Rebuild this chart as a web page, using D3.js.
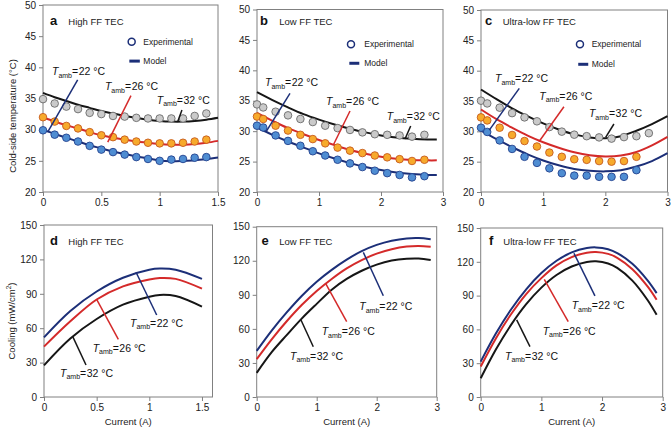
<!DOCTYPE html>
<html><head><meta charset="utf-8">
<script src="https://cdn.jsdelivr.net/npm/d3@7"></script>
<style>body{margin:0;background:#fff}svg{display:block}text{font-family:"Liberation Sans",Arial,Helvetica,sans-serif}</style>
</head><body><svg id="c" width="672" height="428"></svg>
<script>
// ---------- data ----------
const tempTicks=[20,25,30,35,40,45,50];
const coolTicks=[0,30,60,90,120,150];
const xTicksHigh=[0,0.5,1,1.5];
const xTicksLow=[0,1,2,3];
const ambTemps=["22","26","32"];
const panelLetters=["a","b","c","d","e","f"];
const panelTitles=["High FF TEC","Low FF TEC","Ultra-low FF TEC","High FF TEC","Low FF TEC","Ultra-low FF TEC"];

// panel a (High FF, cold-side temperature)
const aExpX=[0,0.1,0.2,0.3,0.4,0.5,0.6,0.7,0.8,0.9,1.0,1.1,1.2,1.3,1.4];
const aExp22=[29.9,29.2,28.7,28.1,27.4,26.8,26.4,26.0,25.6,25.3,25.0,25.2,25.3,25.5,25.6];
const aExp26=[32.0,31.3,30.6,30.2,29.6,29.1,28.8,28.4,28.1,27.9,27.8,27.8,27.9,28.1,28.4];
const aExp32=[34.9,34.2,33.7,33.3,32.7,32.5,32.2,32.1,31.9,31.8,31.8,31.8,31.8,32.2,32.6];
const aModX=[0,0.1,0.2,0.3,0.4,0.5,0.6,0.7,0.8,0.9,1.0,1.1,1.2,1.3,1.4,1.5];
const aMod22=[30.0,29.3,28.7,28.1,27.5,27.0,26.5,26.1,25.7,25.4,25.05,24.95,25.0,25.1,25.3,25.55];
const aMod26=[32.0,31.3,30.7,30.2,29.6,29.1,28.7,28.4,28.1,27.9,27.7,27.6,27.6,27.7,27.9,28.2];
const aMod32=[35.9,35.2,34.6,34.0,33.5,33.0,32.6,32.2,31.9,31.6,31.4,31.3,31.3,31.4,31.6,31.9];

// panel b (Low FF)
const bExpX=[0,0.1,0.3,0.5,0.7,0.9,1.1,1.3,1.5,1.7,1.9,2.1,2.3,2.5,2.7];
const bExp22=[30.9,30.6,29.3,28.4,27.6,26.7,26.0,25.3,24.7,24.1,23.5,23.1,22.8,22.4,22.6];
const bExp26=[32.4,32.0,30.9,30.1,29.4,28.7,28.0,27.3,26.8,26.4,26.0,25.7,25.4,25.1,25.3];
const bExp32=[34.4,33.9,33.2,32.6,32.0,31.5,30.9,30.5,30.2,29.8,29.5,29.4,29.3,29.1,29.4];
const bModX=[0,0.25,0.5,0.75,1.0,1.25,1.5,1.75,2.0,2.25,2.5,2.75,2.9];
const bMod22=[30.6,29.4,28.3,27.3,26.35,25.5,24.75,24.1,23.6,23.2,22.95,22.8,22.8];
const bMod26=[33.0,31.7,30.5,29.5,28.55,27.7,26.9,26.3,25.8,25.45,25.25,25.2,25.2];
const bMod32=[36.4,35.1,33.9,32.8,31.9,31.1,30.4,29.8,29.3,28.95,28.75,28.65,28.65];

// panel c (Ultra-low FF)
const cExpX=[0,0.1,0.3,0.5,0.7,0.9,1.1,1.3,1.5,1.7,1.9,2.1,2.3,2.5,2.7];
const cExp22=[30.6,29.9,28.5,27.1,25.8,24.8,23.9,23.1,22.7,22.7,22.5,22.5,22.5,23.6];
const cExp26=[32.3,31.8,30.6,29.4,28.4,27.5,26.5,25.8,25.4,25.3,25.1,25.0,25.1,25.8];
const cExp32=[35.05,34.6,33.9,33.0,32.3,31.65,30.7,29.95,29.45,29.2,29.0,28.8,29.05,29.2,29.7];
const cModX=[0,0.25,0.5,0.75,1.0,1.25,1.5,1.75,2.0,2.25,2.5,2.75,3.0];
const cMod22=[30.1,28.7,27.4,26.2,25.2,24.4,23.8,23.5,23.4,23.6,24.2,25.1,26.4];
const cMod26=[33.6,32.0,30.6,29.3,28.2,27.3,26.55,26.05,25.85,26.0,26.6,27.7,29.1];
const cMod32=[36.9,35.3,33.8,32.5,31.3,30.3,29.5,29.0,28.85,29.2,30.1,31.2,32.5];

// panel d (High FF, cooling)
const dX=[0,0.25,0.5,0.75,1.0,1.1,1.25,1.5];
const d22=[52,75,92,104,111,112,111,103];
const d26=[43.9,66,85,96.5,102.5,103.8,103,94.5];
const d32=[27.6,51,68,80.5,87.5,89,88,78.8];

// panel e (Low FF, cooling)
const eX=[0,0.25,0.5,0.75,1.0,1.25,1.5,1.75,2.0,2.25,2.5,2.7,2.9];
const e22=[40.6,58.5,74.5,89,101.5,112,121,128.5,134,137.7,139.7,140,139];
const e26=[33.3,50.8,66.7,81,93.4,104,113.3,120.6,126.3,130.2,132.5,133,132.4];
const e32=[21.3,39.5,54.5,69,82,94.5,104,111.2,116.6,120.2,121.8,122,120.7];

// panel f (Ultra-low FF, cooling)
const fX=[0,0.25,0.5,0.75,1.0,1.25,1.5,1.75,1.9,2.1,2.25,2.5,2.75,2.9];
const f22=[31.4,56.3,77.7,95.6,110,120.9,128.3,132.2,132.8,131.2,127.8,118.2,103.5,92.2];
const f26=[27,52,73.4,91.4,105.5,116.8,124.2,128.1,128.7,127,123.5,113.4,98.1,86.3];
const f32=[16.6,42.1,64,82.4,97.1,108.3,115.8,119.8,120.4,118.5,114.6,103.3,86.1,72.9];

// annotation anchors (data units): [textX, textY, leaderX1, leaderY1, leaderX2, leaderY2] for 22, 26, 32 °C
const aNotes=[[0.077,38.77,0.297,37.97,0.040,29.6],[0.531,36.36,0.754,35.45,0.555,28.0],[0.975,34.12,1.191,33.15,1.155,31.3]];
const bNotes=[[0.129,37.42,0.532,36.22,0.145,29.9],[1.113,34.30,1.5,33.31,1.231,27.72],[2.092,31.83,2.479,30.85,2.387,28.7]];
const cNotes=[[0.225,38.13,0.616,37.09,0.133,30.2],[0.937,35.17,1.334,34.06,0.932,28.29],[1.736,32.36,2.138,31.21,2.005,29.0]];
const dNotes=[[0.817,61.1,0.874,108.8,1.07,71.5],[0.462,39.3,0.5,85.2,0.706,50.3],[0.152,17.5,0.273,52.6,0.399,27.9]];
const eNotes=[[1.71,76.6,1.777,127.4,2.11,89.2],[1.083,54.6,1.155,99.5,1.5,66.3],[0.555,32.6,0.738,67.8,0.943,44.3]];
const fNotes=[[1.499,78.1,1.537,127.6,1.883,89.7],[1.021,55.1,1.048,104.5,1.443,66.9],[0.4,32.9,0.593,68.4,0.812,44.7]];

// legend anchors (data units): [circleX, circleY, textX, lineX1, lineX2, lineY]
const aLegend=[0.76,44.1,0.86,0.74,0.83,41.0];
const bLegend=[1.516,44.28,1.73,1.489,1.65,41.16];
const cLegend=[1.592,44.35,1.78,1.564,1.725,41.05];

// ---------- drawing ----------
const svg=d3.select("#c");
const FONT='"Liberation Sans",Arial,Helvetica,sans-serif';
const lineCol=["#1c2f78","#d42a2a","#161616"];
const ptFill=["#4f8dd2","#f7aa2c","#cacaca"];
const ptStroke=["#23428f","#c65a1d","#6a6a6a"];
const frameCol="#808080";

const panels=[
 {l:43,r:218,t:5,b:192,xd:[0,1.5],yd:[20,50],xt:xTicksHigh,yt:tempTicks,mx:aModX,m:[aMod22,aMod26,aMod32],ex:aExpX,e:[aExp22,aExp26,aExp32],notes:aNotes,legend:aLegend,lx:50,tx:68.3,ly:24.5},
 {l:257,r:443,t:9.5,b:192,xd:[0,3],yd:[20,50],xt:xTicksLow,yt:tempTicks,mx:bModX,m:[bMod22,bMod26,bMod32],ex:bExpX,e:[bExp22,bExp26,bExp32],notes:bNotes,legend:bLegend,lx:260,tx:279.3,ly:24.5},
 {l:481,r:667.5,t:10,b:192,xd:[0,3],yd:[20,50],xt:xTicksLow,yt:tempTicks,mx:cModX,m:[cMod22,cMod26,cMod32],ex:cExpX,e:[cExp22,cExp26,cExp32],notes:cNotes,legend:cLegend,lx:485,tx:502.7,ly:24.5},
 {l:44,r:212.5,t:225,b:397,xd:[0,1.6],yd:[0,150],xt:xTicksHigh,yt:coolTicks,mx:dX,m:[d22,d26,d32],notes:dNotes,lx:50,tx:68.3,ly:244.5,xlab:true},
 {l:256.7,r:436.7,t:226.7,b:397,xd:[0,3],yd:[0,150],xt:xTicksLow,yt:coolTicks,mx:eX,m:[e22,e26,e32],notes:eNotes,lx:261.5,tx:279.3,ly:244.5,xlab:true},
 {l:480.7,r:662.7,t:228,b:397,xd:[0,3],yd:[0,150],xt:xTicksLow,yt:coolTicks,mx:fX,m:[f22,f26,f32],notes:fNotes,lx:489,tx:503.3,ly:244.5,xlab:true}
];

panels.forEach((o,pi)=>{
  const x=d3.scaleLinear().domain(o.xd).range([o.l,o.r]);
  const y=d3.scaleLinear().domain(o.yd).range([o.b,o.t]);
  const g=svg.append("g");
  g.append("rect").attr("x",o.l).attr("y",o.t).attr("width",o.r-o.l).attr("height",o.b-o.t)
    .attr("fill","none").attr("stroke",frameCol).attr("stroke-width",1);
  const ax=g.append("g").attr("transform",`translate(0,${o.b})`)
    .call(d3.axisBottom(x).tickValues(o.xt).tickFormat(d3.format("~g")).tickSize(4).tickSizeOuter(0).tickPadding(3));
  const ay=g.append("g").attr("transform",`translate(${o.l},0)`)
    .call(d3.axisLeft(y).tickValues(o.yt).tickFormat(d3.format("d")).tickSize(4).tickSizeOuter(0).tickPadding(3));
  [ax,ay].forEach(a=>{
    a.select(".domain").remove();
    a.selectAll("line").attr("stroke",frameCol);
    a.selectAll("text").attr("font-size",10).attr("fill","#222").attr("font-family",FONT);
  });

  const line=d3.line().x(d=>x(d[0])).y(d=>y(d[1])).curve(d3.curveCatmullRom);
  o.m.forEach((ser,i)=>{
    g.append("path").datum(o.mx.map((v,k)=>[v,ser[k]])).attr("d",line)
      .attr("fill","none").attr("stroke",lineCol[i]).attr("stroke-width",2);
  });
  if(o.e){
    o.e.forEach((ser,i)=>{
      g.selectAll(null).data(ser.map((v,k)=>[o.ex[k],v])).enter().append("circle")
        .attr("cx",d=>x(d[0])).attr("cy",d=>y(d[1])).attr("r",3.8)
        .attr("fill",ptFill[i]).attr("stroke",ptStroke[i]).attr("stroke-width",0.9);
    });
  }
  // annotations
  o.notes.forEach((n,i)=>{
    g.append("line").attr("x1",x(n[2])).attr("y1",y(n[3])).attr("x2",x(n[4])).attr("y2",y(n[5]))
      .attr("stroke",lineCol[i]).attr("stroke-width",1.5);
    const t=g.append("text").attr("x",x(n[0])).attr("y",y(n[1])).attr("font-size",10.5).attr("fill","#111").attr("font-family",FONT);
    t.append("tspan").attr("font-style","italic").text("T");
    t.append("tspan").attr("font-size",7).attr("dy",2.5).text("amb");
    t.append("tspan").attr("dy",-2.5).text("=");
    t.append("tspan").attr("dx",0.5).text(ambTemps[i]+" °C");
  });
  // legend
  if(o.legend){
    const L=o.legend;
    g.append("circle").attr("cx",x(L[0])).attr("cy",y(L[1])).attr("r",3.5)
      .attr("fill","#fff").attr("stroke","#1c2f78").attr("stroke-width",1.5);
    g.append("text").attr("x",x(L[2])).attr("y",y(L[1])+3).attr("font-size",8.5).attr("fill","#222").attr("font-family",FONT).text("Experimental");
    g.append("line").attr("x1",x(L[3])).attr("x2",x(L[4])).attr("y1",y(L[5])).attr("y2",y(L[5]))
      .attr("stroke","#1c2f78").attr("stroke-width",3);
    g.append("text").attr("x",x(L[2])).attr("y",y(L[5])+3).attr("font-size",8.5).attr("fill","#222").attr("font-family",FONT).text("Model");
  }
  // title
  g.append("text").attr("x",o.lx).attr("y",o.ly).attr("font-size",13).attr("font-weight","bold").attr("fill","#111").attr("font-family",FONT).text(panelLetters[pi]);
  g.append("text").attr("x",o.tx).attr("y",o.ly).attr("font-size",9.5).attr("fill","#222").attr("font-family",FONT).text(panelTitles[pi]);
  if(o.xlab){
    g.append("text").attr("x",(o.l+o.r)/2).attr("y",425).attr("text-anchor","middle").attr("font-size",9.5).attr("fill","#222").attr("font-family",FONT).text("Current (A)");
  }
});

// y-axis titles
svg.append("text").attr("transform","translate(15.5,116) rotate(-90)").attr("text-anchor","middle")
  .attr("font-size",9.5).attr("fill","#222").attr("font-family",FONT).text("Cold-side temperature (°C)");
const yl=svg.append("text").attr("transform","translate(14.5,321) rotate(-90)").attr("text-anchor","middle")
  .attr("font-size",9.5).attr("fill","#222").attr("font-family",FONT);
yl.append("tspan").text("Cooling (mW/cm");
yl.append("tspan").attr("font-size",6.5).attr("dy",-3.5).text("2");
yl.append("tspan").attr("dy",3.5).text(")");
</script></body></html>
